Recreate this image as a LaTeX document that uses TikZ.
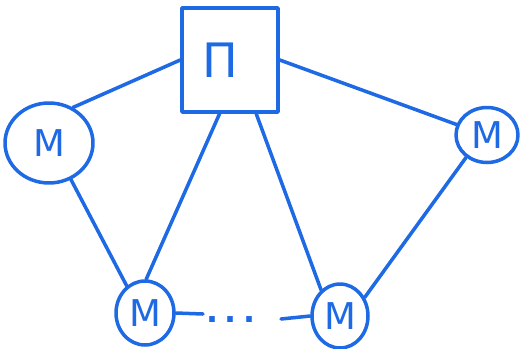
\documentclass[tikz,border=0pt]{standalone}
\usepackage{fontspec}
\setmainfont{DejaVu Sans}
\usetikzlibrary{shapes.geometric}
\definecolor{pen}{RGB}{30,105,228}
\begin{document}
\begin{tikzpicture}[x=0.02cm,y=-0.02cm,
  ink/.style={draw=pen,line width=2pt,line cap=round,line join=round},
  pbox/.style={ink,rectangle,minimum width=1.92cm,minimum height=2.08cm,inner sep=0pt,
    text=pen,font=\fontsize{27}{27}\selectfont},
  mcell/.style={ink,ellipse,inner sep=0pt,text=pen,font=\fontsize{21}{21}\selectfont}]
  \useasboundingbox (0,0) rectangle (520,348);
  % hub and the four stations
  \node[pbox] (P) at (230,60) {\raisebox{-0.3em}{\hspace{-0.4em}П}};
  \node[mcell,minimum width=1.76cm,minimum height=1.6cm] (L) at (49,143) {М};
  \node[mcell,minimum width=1.24cm,minimum height=1.1cm] (R) at (487,135) {М};
  \node[mcell,minimum width=1.16cm,minimum height=1.28cm] (BL) at (145,313) {М};
  \node[mcell,minimum width=1.12cm,minimum height=1.28cm] (BR) at (340,316) {М};
  % links from the hub
  \draw[ink] (P.west) -- (L.56);
  \draw[ink] (P.east) -- (R.161);
  \draw[ink] (P.259) -- (BL.88);
  \draw[ink] (P.296) -- (BR.126);
  % outer ring
  \draw[ink] (L.301) -- (BL.124);
  \draw[ink] (R.227) -- (BR.37);
  % bottom chain with elision
  \coordinate (a) at (203,314);
  \coordinate (b) at (281,319);
  \node[text=pen,font=\fontsize{18}{18}\selectfont\bfseries] (dots) at (231,320) {.\hspace{3pt}.\hspace{4pt}.};
  \draw[ink] (BL.east) -- (a);
  \draw[ink] (b) -- (BR.west);
\end{tikzpicture}
\end{document}
